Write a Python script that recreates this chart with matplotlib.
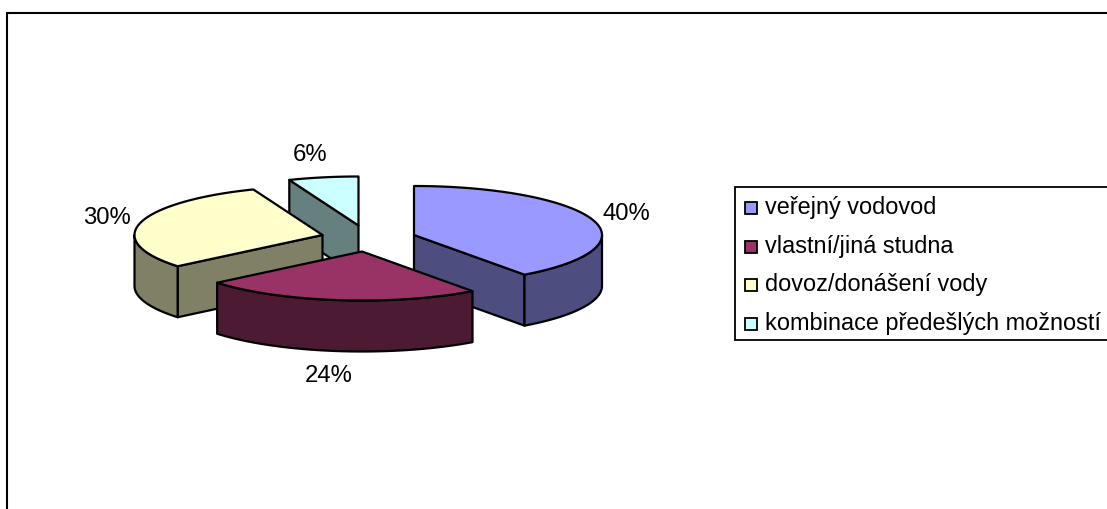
import matplotlib
matplotlib.use('Agg')
import matplotlib.pyplot as plt
import numpy as np
from matplotlib.patches import Polygon, Rectangle

# Data
categories = ['veřejný vodovod', 'vlastní/jiná studna', 'dovoz/donášení vody', 'kombinace předešlých možností']
values = [40, 24, 30, 6]
colors = ['#9999FF', '#993366', '#FFFFCC', '#CCFFFF']
side_colors = ['#4D4D80', '#4D1A33', '#808066', '#668080']

# apex of each exploded slice, in pixels
apexes = [(414, 236), (362, 252.5), (322.5, 236), (358.5, 226.5)]
label_pos = [(626, 214), (329, 376), (107, 218), (310, 155)]
draw_order = [3, 2, 0, 1]

rx, ry = 188, 49
depth = 51

plt.rcParams['font.family'] = ['Liberation Sans', 'DejaVu Sans']
fig = plt.figure(figsize=(11.07, 5.10), dpi=100)
ax = fig.add_axes([0, 0, 1, 1])
ax.set_xlim(0, 1107)
ax.set_ylim(510, 0)
ax.axis('off')

# chart frame, runs off the right and bottom of the image
ax.plot([7, 7, 1107], [510, 13.5, 13.5], color='black', lw=1.5, solid_joinstyle='miter')


def rim(cx, cy, t):
    return np.column_stack([cx + rx * np.sin(t), cy - ry * np.cos(t)])


def face(pts, color, z):
    ax.add_patch(Polygon(pts, closed=True, facecolor=color, edgecolor='black',
                         lw=1.6, joinstyle='round', zorder=z))


ends = np.cumsum([0] + values) / sum(values) * 2 * np.pi
for z, i in enumerate(draw_order):
    a0, a1 = ends[i], ends[i + 1]
    cx, cy = apexes[i]
    base = 10 + z * 5
    mid = rim(0, 0, np.array([(a0 + a1) / 2]))[0]

    # cut faces that point towards the viewer
    for a in (a0, a1):
        p = rim(0, 0, np.array([a]))[0]
        if p[0] * (p[0] * mid[1] - p[1] * mid[0]) < -1e-6:
            edge = np.array([[cx, cy], [cx + p[0], cy + p[1]]])
            face(np.vstack([edge, edge[::-1] + [0, depth]]), side_colors[i], base)

    # outer wall, only the front half of the ellipse shows
    lo, hi = max(a0, np.pi / 2), min(a1, 3 * np.pi / 2)
    if hi > lo:
        top = rim(cx, cy, np.linspace(lo, hi, 80))
        face(np.vstack([top, top[::-1] + [0, depth]]), side_colors[i], base + 1)

    # top of the slice
    arc = rim(cx, cy, np.linspace(a0, a1, 120))
    face(np.vstack([[cx, cy], arc]), colors[i], base + 2)

    ax.text(label_pos[i][0], label_pos[i][1], '%d%%' % values[i], fontsize=17.2,
            ha='center', va='center', color='black', zorder=50)

# legend box, also cut off by the image edge
ax.add_patch(Rectangle((735, 187.5), 400, 153, facecolor='white', edgecolor='black',
                       lw=1.3, zorder=60))
legend_y = [208.5, 247.5, 285.5, 324.5]
for i, name in enumerate(categories):
    ax.add_patch(Rectangle((745, legend_y[i] - 5.5), 12, 12, facecolor=colors[i],
                           edgecolor='black', lw=1.3, zorder=61))
    ax.text(765, legend_y[i] - 1, name, fontsize=16.9, ha='left', va='center',
            color='black', zorder=61)

plt.savefig('out.png', dpi=100)
